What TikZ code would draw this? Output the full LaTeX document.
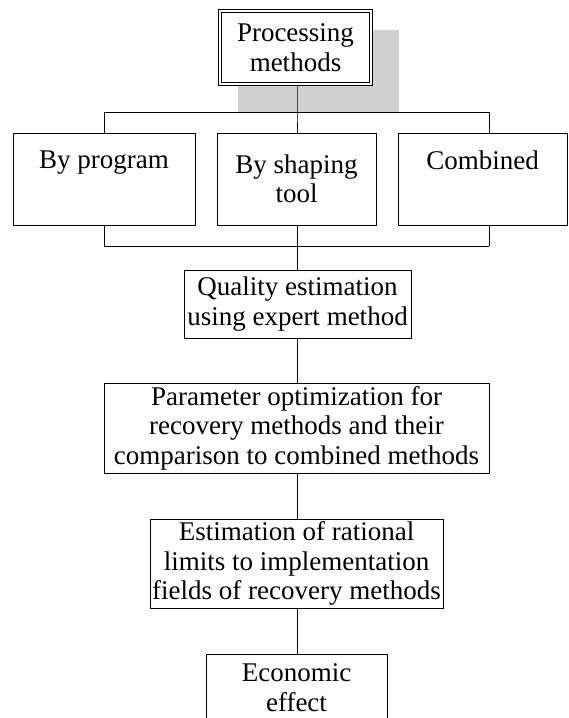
\documentclass[tikz,border=0pt]{standalone}
\usepackage{fontspec}
\setmainfont{Liberation Serif}
\definecolor{shadowgray}{RGB}{208,208,208}
\begin{document}
\begin{tikzpicture}[x=1pt,y=-1pt,
  box/.style={draw,line width=1pt,fill=white,inner sep=0pt,align=center,
              font=\fontsize{27}{29.5}\selectfont},
  conn/.style={line width=1pt}]
\clip (0,0) rectangle (568,718);
\fill[white] (0,0) rectangle (568,718);
% shadow behind the top box
\fill[shadowgray] (238,30) rectangle (399,112);
% top box
\node[box,double,double distance=1.6pt,minimum width=151.4pt,minimum height=73.4pt]
  (top) at (295.5,47.5) {Processing\\methods};
% three method boxes
\node[box,minimum width=182pt,minimum height=92pt] (b1) at (104,179) {By program\\\strut};
\node[box,minimum width=159pt,minimum height=92pt] (b2) at (296.5,179) {By shaping\\tool};
\node[box,minimum width=169pt,minimum height=92pt] (b3) at (482.5,179) {Combined\\\strut};
% chain boxes
\node[box,minimum width=227pt,minimum height=68pt] (q) at (297.5,304)
  {Quality estimation\\using expert method};
\node[box,minimum width=385pt,minimum height=90pt] (p) at (296.5,428)
  {Parameter optimization for\\recovery methods and their\\comparison to combined methods};
\node[box,minimum width=293pt,minimum height=89pt] (e) at (296.5,563.5)
  {Estimation of rational\\limits to implementation\\fields of recovery methods};
\node[box,minimum width=181pt,minimum height=67pt] (ec) at (296.5,687.5)
  {Economic\\effect};
% bus coordinates
\coordinate (tl) at (104,112);
\coordinate (tm) at (297,112);
\coordinate (tr) at (489,112);
\coordinate (bl) at (104,246);
\coordinate (bm) at (297,246);
\coordinate (br) at (489,246);
% upper bus
\draw[conn] (tl) -- (tr);
\draw[conn] (tm |- top.south) -- (tm) -- (tm |- b2.north);
\draw[conn] (tl) -- (tl |- b1.north);
\draw[conn] (tr) -- (tr |- b3.north);
% lower bus
\draw[conn] (bl) -- (br);
\draw[conn] (bl |- b1.south) -- (bl);
\draw[conn] (br |- b3.south) -- (br);
\draw[conn] (bm |- b2.south) -- (bm |- q.north);
% chain
\draw[conn] (bm |- q.south) -- (bm |- p.north);
\draw[conn] (bm |- p.south) -- (bm |- e.north);
\draw[conn] (bm |- e.south) -- (bm |- ec.north);
\end{tikzpicture}
\end{document}
